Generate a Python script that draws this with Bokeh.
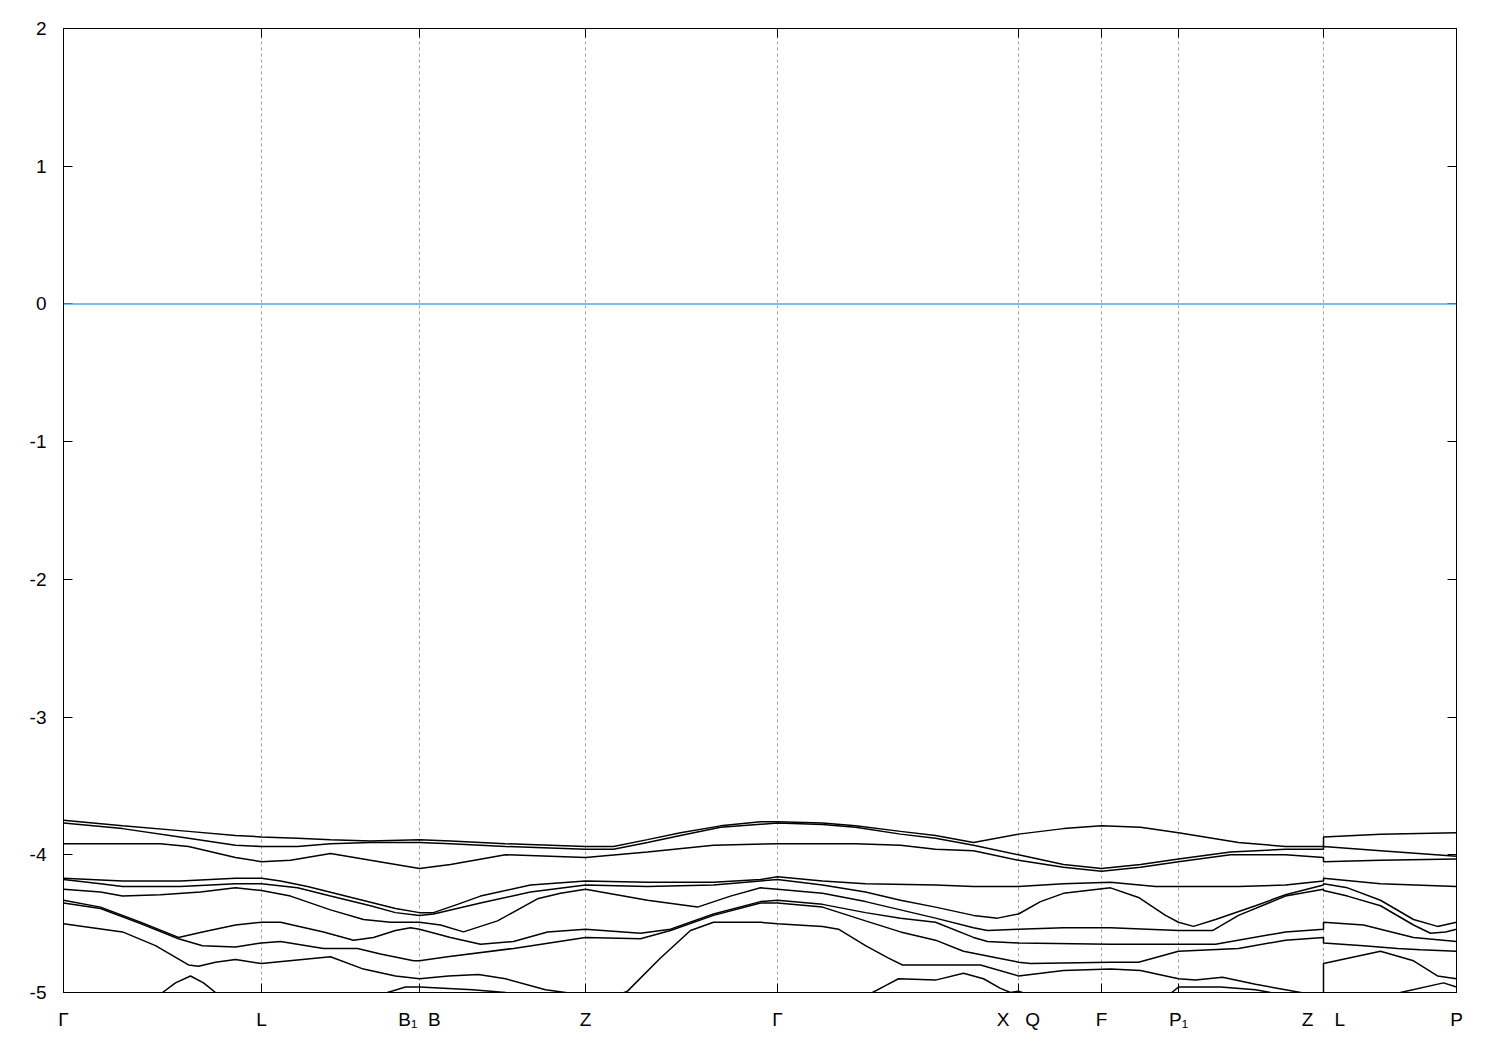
from bokeh.plotting import figure
from bokeh.models import Range1d, FixedTicker, Span, LinearAxis
from bokeh.embed import file_html
from bokeh.resources import INLINE

# high-symmetry points along the k-path
sym_k = [0.0, 1.98, 3.56, 5.22, 7.14, 9.55, 10.38, 11.15, 12.60, 13.93]
sym_labels = ["Γ", "L", "B₁\u00a0\u00a0B", "Z", "Γ", "X\u00a0\u00a0\u00a0Q", "F", "P₁",
              "Z\u00a0\u00a0\u00a0\u00a0L", "P"]
grid_k = [1.98, 3.56, 5.22, 7.14, 9.55, 10.38, 11.15, 12.60]
y_ticks = [2, 1, 0, -1, -2, -3, -4, -5]
y_labels = ["2", "1", "0", "-1", "-2", "-3", "-4", "-5"]
e_fermi = 0.0

# bands (energy in eV), sorted from top to bottom
t1_k = [0, 0.59, 1.25, 1.72, 1.98, 2.34, 2.67, 3.07, 3.56, 3.87, 4.42, 5.22, 5.50, 5.84, 6.17, 6.57, 6.97, 7.14,
        7.59, 7.92, 8.37, 8.72, 9.10, 9.55, 10.00, 10.38, 10.77, 11.15, 11.75, 12.22, 12.60, 12.60, 13.17, 13.93]
t1_e = [-3.75, -3.79, -3.83, -3.86, -3.87, -3.88, -3.89, -3.90, -3.89, -3.90, -3.92, -3.94, -3.94, -3.89, -3.84,
        -3.79, -3.76, -3.76, -3.77, -3.79, -3.83, -3.86, -3.91, -3.85, -3.81, -3.79, -3.80, -3.84, -3.91, -3.94,
        -3.94, -3.87, -3.85, -3.84]

t2_k = [0, 0.59, 1.25, 1.72, 1.98, 2.34, 2.67, 3.07, 3.56, 3.87, 4.42, 5.22, 5.50, 5.84, 6.17, 6.57, 7.14, 7.59,
        7.92, 8.37, 8.72, 9.10, 9.55, 10.00, 10.38, 10.77, 11.15, 11.67, 12.22, 12.60, 12.60, 13.17, 13.93]
t2_e = [-3.77, -3.81, -3.88, -3.93, -3.94, -3.94, -3.92, -3.91, -3.91, -3.92, -3.94, -3.96, -3.96, -3.91, -3.86,
        -3.80, -3.77, -3.78, -3.80, -3.85, -3.88, -3.93, -4.00, -4.07, -4.10, -4.07, -4.03, -3.98, -3.96, -3.96,
        -3.94, -3.97, -4.01]

t3_k = [0, 0.59, 0.97, 1.25, 1.72, 1.98, 2.27, 2.67, 3.07, 3.56, 3.87, 4.42, 5.22, 5.84, 6.50, 7.14, 7.92, 8.37,
        8.72, 9.10, 9.55, 10.00, 10.38, 10.77, 11.15, 11.67, 12.22, 12.60, 12.60, 13.17, 13.93]
t3_e = [-3.92, -3.92, -3.92, -3.94, -4.02, -4.05, -4.04, -3.99, -4.04, -4.10, -4.07, -4.00, -4.02, -3.98, -3.93,
        -3.92, -3.92, -3.93, -3.96, -3.97, -4.04, -4.09, -4.12, -4.09, -4.05, -4.00, -4.00, -4.02, -4.05, -4.04,
        -4.03]

m1_k = [0, 0.59, 1.17, 1.72, 1.98, 2.17, 2.44, 2.77, 3.10, 3.32, 3.56, 3.70, 3.94, 4.17, 4.67, 5.22, 5.84, 6.50,
        6.97, 7.14, 7.59, 8.02, 8.72, 9.10, 9.55, 10.00, 10.47, 10.92, 11.75, 12.22, 12.60, 12.60, 13.17, 13.93]
m1_e = [-4.17, -4.19, -4.19, -4.17, -4.17, -4.19, -4.23, -4.29, -4.35, -4.39, -4.42, -4.42, -4.36, -4.30, -4.22,
        -4.19, -4.20, -4.20, -4.18, -4.16, -4.19, -4.21, -4.22, -4.23, -4.23, -4.21, -4.20, -4.23, -4.23, -4.22,
        -4.19, -4.17, -4.21, -4.23]

m2_k = [0, 0.37, 0.59, 1.17, 1.72, 1.98, 2.34, 2.67, 3.07, 3.32, 3.56, 3.70, 4.17, 4.67, 5.22, 5.84, 6.50, 6.97,
        7.14, 7.59, 8.02, 8.37, 8.72, 9.10, 9.34, 9.55, 9.77, 10.00, 10.47, 10.75, 11.02, 11.15, 11.30, 11.52,
        11.92, 12.22, 12.60, 12.60, 12.84, 13.17, 13.50, 13.74, 13.93]
m2_e = [-4.18, -4.21, -4.23, -4.23, -4.21, -4.21, -4.24, -4.30, -4.37, -4.42, -4.44, -4.43, -4.35, -4.27, -4.22,
        -4.23, -4.22, -4.19, -4.18, -4.22, -4.27, -4.33, -4.38, -4.44, -4.46, -4.43, -4.34, -4.28, -4.24, -4.31,
        -4.44, -4.49, -4.52, -4.47, -4.37, -4.29, -4.22, -4.21, -4.24, -4.33, -4.47, -4.52, -4.49]

m3_k = [0, 0.37, 0.59, 0.97, 1.37, 1.72, 1.98, 2.27, 2.67, 3.00, 3.27, 3.56, 3.77, 4.00, 4.34, 4.74, 4.97, 5.22,
        5.84, 6.34, 6.67, 6.97, 7.14, 7.59, 8.02, 8.37, 8.72, 9.10, 9.24, 9.55, 10.00, 10.47, 11.15, 11.49, 11.75,
        12.22, 12.60, 12.60, 12.84, 13.17, 13.50, 13.67, 13.82, 13.93]
m3_e = [-4.25, -4.27, -4.30, -4.29, -4.27, -4.24, -4.26, -4.30, -4.40, -4.47, -4.49, -4.49, -4.51, -4.56, -4.48,
        -4.32, -4.28, -4.25, -4.33, -4.38, -4.30, -4.24, -4.25, -4.28, -4.34, -4.40, -4.46, -4.53, -4.55, -4.54,
        -4.53, -4.53, -4.55, -4.55, -4.44, -4.30, -4.25, -4.26, -4.30, -4.37, -4.51, -4.57, -4.56, -4.54]

l1_k = [0, 0.37, 0.77, 1.15, 1.39, 1.72, 1.98, 2.17, 2.60, 2.90, 3.10, 3.32, 3.47, 3.56, 3.87, 4.17, 4.50, 4.84,
        5.22, 5.77, 6.07, 6.50, 6.97, 7.14, 7.59, 8.02, 8.37, 8.72, 9.10, 9.24, 9.55, 10.47, 11.15, 11.52, 12.22,
        12.60, 12.60, 13.00, 13.50, 13.93]
l1_e = [-4.33, -4.38, -4.49, -4.60, -4.56, -4.51, -4.49, -4.49, -4.56, -4.62, -4.60, -4.55, -4.53, -4.54, -4.60,
        -4.65, -4.63, -4.56, -4.54, -4.57, -4.54, -4.43, -4.34, -4.33, -4.36, -4.42, -4.46, -4.49, -4.60, -4.63,
        -4.64, -4.65, -4.65, -4.65, -4.56, -4.54, -4.49, -4.51, -4.60, -4.63]

l2_k = [0, 0.37, 0.77, 1.15, 1.39, 1.72, 1.98, 2.17, 2.60, 2.94, 3.17, 3.50, 3.56, 3.84, 4.50, 5.22, 5.77, 6.07,
        6.50, 6.97, 7.14, 7.59, 8.02, 8.37, 8.72, 9.00, 9.34, 9.55, 9.67, 10.47, 10.75, 11.15, 11.75, 12.22, 12.60,
        12.60, 13.00, 13.34, 13.57, 13.93]
l2_e = [-4.35, -4.39, -4.50, -4.61, -4.66, -4.67, -4.64, -4.63, -4.68, -4.68, -4.72, -4.77, -4.77, -4.74, -4.68,
        -4.60, -4.61, -4.55, -4.44, -4.35, -4.35, -4.38, -4.48, -4.56, -4.62, -4.70, -4.75, -4.78, -4.79, -4.78,
        -4.78, -4.70, -4.68, -4.62, -4.60, -4.64, -4.66, -4.68, -4.69, -4.70]

l3_k = [0, 0.59, 0.92, 1.25, 1.35, 1.52, 1.72, 1.98, 2.67, 3.00, 3.32, 3.56, 3.85, 4.15, 4.42, 4.82, 5.22, 5.57,
        5.64, 5.97, 6.27, 6.50, 6.97, 7.14, 7.59, 7.75, 8.02, 8.25, 8.39, 8.72, 9.17, 9.55, 10.00, 10.47, 10.77,
        11.15, 11.32, 11.59, 11.92, 12.22, 12.60, 12.60, 13.17, 13.50, 13.74, 13.93]
l3_e = [-4.50, -4.56, -4.66, -4.80, -4.81, -4.78, -4.76, -4.79, -4.74, -4.83, -4.88, -4.90, -4.88, -4.87, -4.90,
        -4.98, -5.02, -5.01, -4.99, -4.75, -4.55, -4.49, -4.49, -4.50, -4.52, -4.54, -4.66, -4.75, -4.80, -4.80,
        -4.80, -4.88, -4.84, -4.83, -4.84, -4.90, -4.91, -4.89, -4.94, -4.98, -5.03, -4.79, -4.70, -4.77, -4.88,
        -4.90]

d1_k = [0, 0.87, 0.99, 1.12, 1.27, 1.40, 1.52, 1.67, 1.98, 3.07, 3.24, 3.42, 3.56, 4.09, 4.42, 4.77, 5.22, 7.14,
        7.97, 8.09, 8.22, 8.35, 8.72, 9.00, 9.20, 9.37, 9.47, 9.55, 9.67, 9.97, 10.77, 11.05, 11.15, 11.57, 11.92,
        12.22, 12.60, 12.60, 13.27, 13.37, 13.80, 13.93]
d1_e = [-5.20, -5.10, -5.00, -4.93, -4.88, -4.93, -5.00, -5.10, -5.20, -5.05, -5.00, -4.96, -4.96, -4.98, -5.00,
        -5.10, -5.20, -5.30, -5.10, -5.00, -4.95, -4.90, -4.91, -4.86, -4.90, -4.97, -5.00, -4.99, -5.02, -5.10,
        -5.10, -5.02, -4.96, -4.96, -4.98, -5.02, -5.10, -5.20, -5.05, -5.00, -4.93, -4.96]

bands = [(t1_k, t1_e), (t2_k, t2_e), (t3_k, t3_e), (m1_k, m1_e), (m2_k, m2_e), (m3_k, m3_e),
         (l1_k, l1_e), (l2_k, l2_e), (l3_k, l3_e), (d1_k, d1_e)]

FONT = "Liberation Sans"
FSIZE = "19px"

p = figure(frame_width=1393, frame_height=964,
           x_range=Range1d(sym_k[0], sym_k[-1]), y_range=Range1d(-5, 2),
           output_backend="svg", toolbar_location=None,
           min_border_left=63, min_border_top=28, min_border_right=24, min_border_bottom=44,
           background_fill_color="white", border_fill_color="white")
p.outline_line_color = "black"
p.outline_line_width = 1

# grid: dashed verticals at interior high-symmetry points only
p.xgrid.ticker = FixedTicker(ticks=grid_k)
p.xgrid.grid_line_color = "#a0a0a0"
p.xgrid.grid_line_dash = "3 3"
p.xgrid.grid_line_width = 1
p.ygrid.visible = False


def style(ax):
    ax.major_tick_in = 9
    ax.major_tick_out = 0
    ax.minor_tick_in = 0
    ax.minor_tick_out = 0
    ax.axis_line_color = "black"
    ax.major_tick_line_color = "black"
    ax.major_label_text_font = FONT
    ax.major_label_text_font_size = FSIZE
    ax.major_label_text_color = "black"


xb = p.xaxis[0]
xb.ticker = FixedTicker(ticks=sym_k)
xb.major_label_overrides = {k: lab for k, lab in zip(sym_k, sym_labels)}
style(xb)
xb.major_label_standoff = 16

yl = p.yaxis[0]
yl.ticker = FixedTicker(ticks=y_ticks)
yl.major_label_overrides = {t: lab for t, lab in zip(y_ticks, y_labels)}
style(yl)
yl.major_label_standoff = 17

# mirrored tick marks (no labels)
yr = LinearAxis(ticker=FixedTicker(ticks=y_ticks))
style(yr)
yr.major_label_text_color = None
yr.major_label_standoff = 0
p.add_layout(yr, "right")

xt = LinearAxis(ticker=FixedTicker(ticks=sym_k))
style(xt)
xt.major_label_text_color = None
xt.major_label_standoff = 0
p.add_layout(xt, "above")

# Fermi level
p.add_layout(Span(location=e_fermi, dimension="width", line_color="#4aa8e0", line_width=1.6))

for bk, be in bands:
    p.line(bk, be, line_color="black", line_width=1.5)

open("out.html", "w").write(file_html(p, INLINE))
